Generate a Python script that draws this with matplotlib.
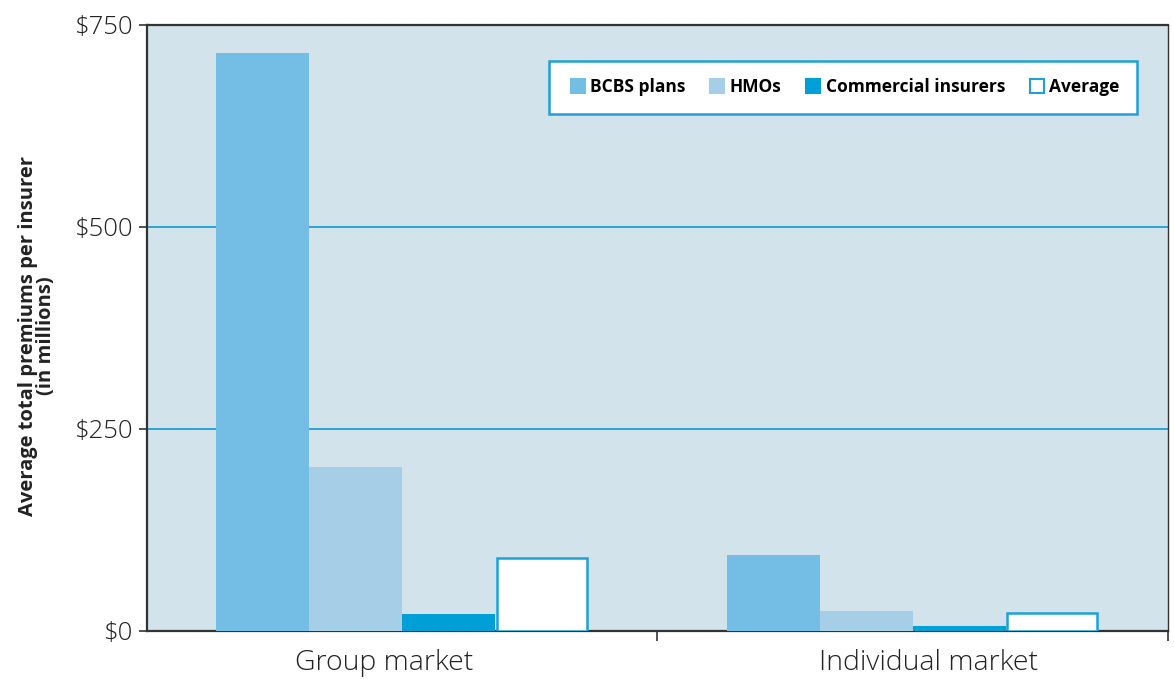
import matplotlib.pyplot as plt
import numpy as np
from matplotlib.lines import Line2D

# Average total premiums per insurer, in millions of dollars
markets = ["Group market", "Individual market"]
series_names = ["BCBS plans", "HMOs", "Commercial insurers", "Average"]
bcbs = [715, 94]
hmos = [203, 25]
commercial = [21, 6]
average = [90, 22]

y_ticks = [0, 250, 500, 750]
y_tick_labels = ["$0", "$250", "$500", "$750"]

bg = "#d2e3ec"
blue_line = "#1ea0d8"
fills = ["#74bde4", "#a6cfe7", "#009fd6", "white"]

fig = plt.figure(figsize=(11.74, 6.79), dpi=100)
ax = fig.add_axes([0.1252, 0.0707, 0.8697, 0.8925])
ax.set_facecolor(bg)

x = np.arange(len(markets))
w = 0.182
offsets = np.array([-1.5, -0.5, 0.5, 1.5]) * w
for vals, off, col in zip([bcbs, hmos, commercial], offsets[:3], fills[:3]):
    ax.bar(x + off, vals, w, color=col, edgecolor="none", zorder=3)
ax.bar(x + offsets[3], average, w * 0.97, color="white", edgecolor=blue_line,
       linewidth=1.8, zorder=3)

ax.set_xlim(-0.5, 1.5)
ax.set_ylim(0, 750)
ax.set_yticks(y_ticks)
ax.set_yticklabels(y_tick_labels, fontsize=18.5, family="Open Sans", fontweight="light",
                   color="#222222")
ax.set_xticks([0.5, 1.5])
ax.set_xticklabels([])
ax.tick_params(axis="x", length=7, width=1.2, color="#333333")
ax.tick_params(axis="y", length=6, width=1.2, color="#333333", pad=4)

# category names sit slightly off the group centres
label_shift = [-0.035, 0.031]
for i, name in enumerate(markets):
    ax.text(i + label_shift[i], -0.03, name, transform=ax.get_xaxis_transform(),
            ha="center", va="top", fontsize=20.5, family="Open Sans",
            fontweight="light", color="#222222")

for v in [250, 500]:
    ax.axhline(v, color=blue_line, linewidth=1.3, zorder=2)

for s in ax.spines.values():
    s.set_color("#333333")
    s.set_linewidth(1.6)
ax.spines["right"].set_linewidth(1.0)

fig.text(37 / 1174, 0.505, "Average total premiums per insurer\n(in millions)",
         rotation=90, ha="center", va="center", fontsize=14.5, fontweight="bold",
         family="Open Sans", color="#222222", linespacing=0.9, multialignment="center")

handles = [Line2D([], [], marker="s", linestyle="none", markersize=10,
                  markerfacecolor=c, markeredgecolor=(blue_line if c == "white" else c),
                  markeredgewidth=1.5)
           for c in fills]
leg = ax.legend(handles, series_names, loc="upper right", bbox_to_anchor=(0.9696, 0.9406),
                ncol=4, frameon=True, fancybox=False, handletextpad=0.05,
                handlelength=1.3, columnspacing=1.2, borderpad=1.0, borderaxespad=0,
                prop={"family": "Open Sans", "weight": "bold", "size": 12.5})
leg.get_frame().set_edgecolor(blue_line)
leg.get_frame().set_linewidth(1.8)
leg.get_frame().set_facecolor("white")
leg.get_frame().set_alpha(1)
leg.set_zorder(5)

fig.savefig("out.png", dpi=100)
